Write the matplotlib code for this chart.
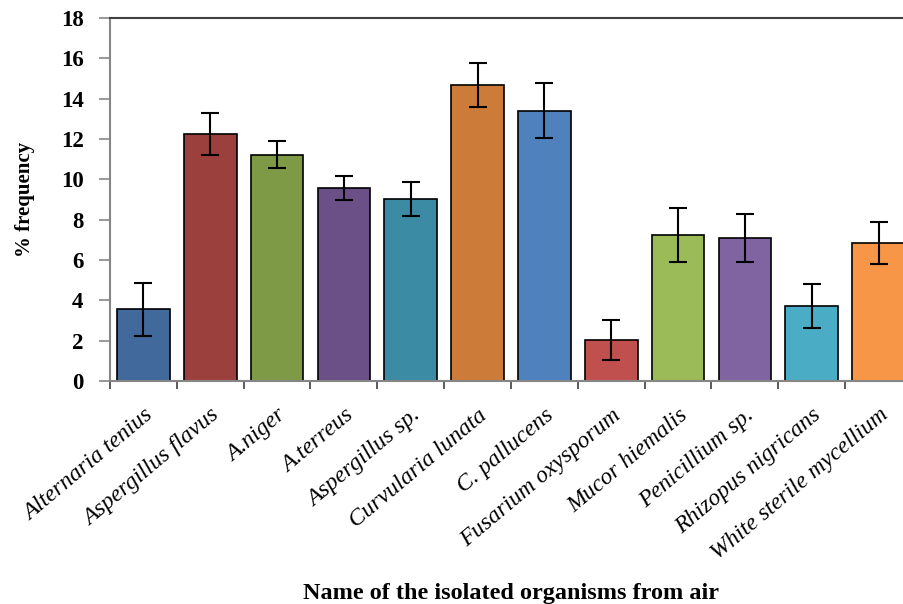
import matplotlib
matplotlib.use("Agg")
import matplotlib.pyplot as plt
import numpy as np

categories = ["Alternaria tenius", "Aspergillus flavus", "A.niger", "A.terreus",
              "Aspergillus sp.", "Curvularia lunata", "C. pallucens",
              "Fusarium oxysporum", "Mucor hiemalis", "Penicillium sp.",
              "Rhizopus nigricans", "White sterile mycellium"]
values = [3.55, 12.26, 11.22, 9.58, 9.04, 14.68, 13.40, 2.02, 7.24, 7.09, 3.72, 6.84]
errors = [1.30, 1.05, 0.68, 0.60, 0.85, 1.08, 1.37, 1.00, 1.34, 1.17, 1.09, 1.05]
colors = ["#41699C", "#9B403D", "#7E9A47", "#6A5087", "#3C8BA4", "#CC7B38",
          "#4F81BD", "#C0504D", "#9BBB59", "#8064A2", "#4BACC6", "#F79646"]
yticks = [0, 2, 4, 6, 8, 10, 12, 14, 16, 18]

plt.rcParams['font.family'] = ['Liberation Serif', 'DejaVu Serif']

fig = plt.figure(figsize=(9.04, 6.04), dpi=100)
ax = fig.add_axes([110/904, 223/604, 802/904, 363/604])

x = np.arange(len(categories))
ax.bar(x, values, width=0.79, color=colors, edgecolor='black', linewidth=1.2, zorder=2)
ax.errorbar(x, values, yerr=errors, fmt='none', ecolor='black', elinewidth=1.5,
            capsize=6.5, capthick=1.5, zorder=3)

ax.set_xlim(-0.5, len(categories) - 0.5)
ax.set_ylim(0, 18)
ax.set_yticks(yticks)
ax.set_yticklabels([str(v) for v in yticks], fontsize=16.5, fontweight='bold')
ax.tick_params(axis='y', length=8, width=1.2, color='#868686', pad=11)

ax.set_xticks(x)
ax.set_xticklabels(categories, rotation=40, ha='right', va='top',
                   rotation_mode='anchor', fontsize=17, fontstyle='italic')
ax.tick_params(axis='x', which='major', length=0, pad=17)
ax.set_xticks(np.arange(-0.5, len(categories), 1.0), minor=True)
ax.tick_params(axis='x', which='minor', length=6, width=1.2, color='#404040')

for s in ['left', 'bottom']:
    ax.spines[s].set_color('#868686')
    ax.spines[s].set_linewidth(1.5)
ax.spines['top'].set_color('#404040')
ax.spines['top'].set_linewidth(1.5)
ax.spines['right'].set_visible(False)

ax.set_ylabel("% frequency", fontsize=15, fontweight='bold', va='center')
ax.yaxis.set_label_coords(-0.106, 0.5)
ax.set_xlabel("Name of the isolated organisms from air", fontsize=17.5,
              fontweight='bold', va='center')
ax.xaxis.set_label_coords(0.5, -0.586)

fig.savefig("out.png", dpi=100)
